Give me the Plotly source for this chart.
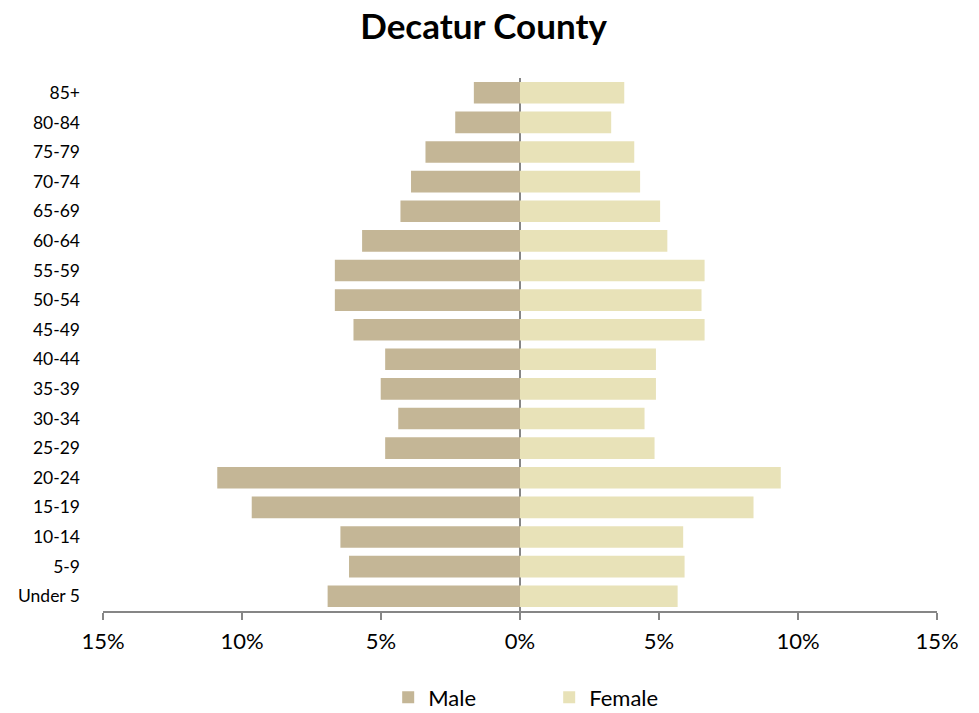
import plotly.graph_objects as go

age_groups = ["Under 5", "5-9", "10-14", "15-19", "20-24", "25-29", "30-34", "35-39",
              "40-44", "45-49", "50-54", "55-59", "60-64", "65-69", "70-74", "75-79",
              "80-84", "85+"]
male_pct = [6.92, 6.15, 6.46, 9.65, 10.89, 4.85, 4.38, 5.01,
            4.85, 5.99, 6.66, 6.66, 5.68, 4.30, 3.92, 3.40, 2.33, 1.66]
female_pct = [5.67, 5.92, 5.87, 8.40, 9.38, 4.84, 4.48, 4.89,
              4.89, 6.64, 6.53, 6.64, 5.30, 5.04, 4.32, 4.11, 3.28, 3.75]
tick_vals = [-15, -10, -5, 0, 5, 10, 15]
tick_text = ["15%", "10%", "5%", "0%", "5%", "10%", "15%"]

FONT = "Lato, Calibri, Carlito, sans-serif"

fig = go.Figure()
fig.add_trace(go.Bar(
    y=age_groups, x=[-v for v in male_pct], orientation="h", name="Male",
    marker=dict(color="#C4B696", line=dict(width=0)),
))
fig.add_trace(go.Bar(
    y=age_groups, x=female_pct, orientation="h", name="Female",
    marker=dict(color="#E8E2B8", line=dict(width=0)),
))

fig.update_layout(
    width=979, height=713,
    barmode="relative", bargap=0.27,
    paper_bgcolor="white", plot_bgcolor="white",
    margin=dict(l=103, r=42, t=78, b=102, autoexpand=False),
    font=dict(family=FONT, size=17, color="#000000"),
    title=dict(text="<b>Decatur County</b>", x=0.494, xanchor="center",
               y=0.962, yanchor="middle",
               font=dict(family=FONT, size=35, color="#000000")),
    xaxis=dict(range=[-15, 15], tickvals=tick_vals, ticktext=tick_text,
               automargin=False,
               showgrid=False, zeroline=True, zerolinecolor="#868686", zerolinewidth=2,
               showline=True, linecolor="#868686", linewidth=2,
               ticks="outside", ticklen=7, tickcolor="#868686", tickwidth=1.5,
               ticklabelstandoff=3, tickfont=dict(size=22)),
    yaxis=dict(categoryorder="array", categoryarray=age_groups, automargin=False,
               showgrid=False, showline=False, ticks="", ticklabelstandoff=22,
               tickfont=dict(size=17.5)),
    legend=dict(orientation="h", x=0.535, xanchor="center", y=-0.162, yanchor="middle",
                font=dict(size=22), entrywidth=116, traceorder="normal"),
    showlegend=True,
)

fig.write_html("out.html",
               config={"displayModeBar": False},
               post_script="document.body.style.margin='0';document.body.style.overflow='hidden';")
